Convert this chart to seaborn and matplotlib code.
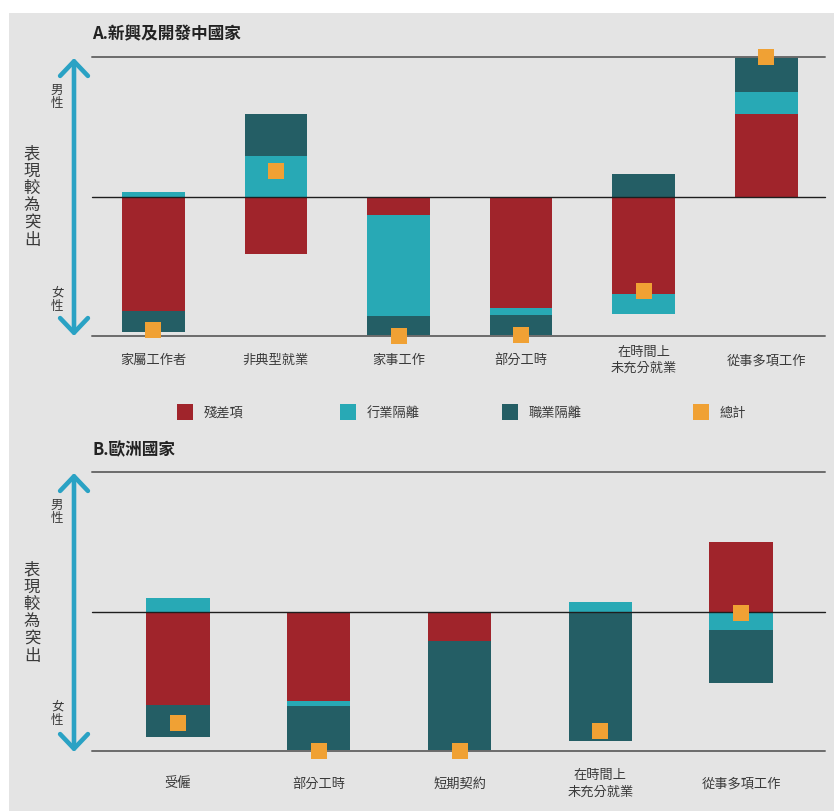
import numpy as np
import matplotlib
matplotlib.use("Agg")
import matplotlib.pyplot as plt
from matplotlib.patches import Rectangle, FancyArrowPatch
import seaborn as sns

# ---------------- data ----------------
cats_a = ["家屬工作者", "非典型就業", "家事工作", "部分工時", "在時間上\n未充分就業", "從事多項工作"]
resid_a = [-0.82, -0.41, -0.13, -0.80, -0.70, 0.59]
sector_a = [0.03, 0.29, -0.73, -0.05, -0.14, 0.16]
occup_a = [-0.15, 0.30, -0.14, -0.14, 0.16, 0.25]
total_a = [-0.96, 0.18, -1.00, -0.99, -0.68, 1.00]

cats_b = ["受僱", "部分工時", "短期契約", "在時間上\n未充分就業", "從事多項工作"]
resid_b = [-0.67, -0.645, -0.21, 0.0, 0.50]
sector_b = [0.10, -0.03, 0.0, 0.07, -0.13]
occup_b = [-0.23, -0.32, -0.79, -0.93, -0.38]
total_b = [-0.80, -1.00, -1.00, -0.86, -0.01]

legend_labels = ["殘差項", "行業隔離", "職業隔離", "總計"]
title_a = "A.新興及開發中國家"
title_b = "B.歐洲國家"

# ---------------- style ----------------
RED = "#a0242b"
CYAN = "#28a9b5"
DARK = "#245e65"
ORANGE = "#f0a134"
ARROW = "#2aa2c4"
BG = "#e4e4e4"
TXT = "#3a3a3a"

sns.set_style("white")
plt.rcParams["font.family"] = ["Noto Sans CJK TC", "DejaVu Sans"]

W, H = 834, 812
fig = plt.figure(figsize=(W / 100, H / 100), dpi=100)
fig.patch.set_facecolor("white")
fig.patches.append(Rectangle((9 / W, 0), 1 - 9 / W, (H - 14) / H,
                             transform=fig.transFigure, facecolor=BG,
                             edgecolor="none", zorder=-10))


def fx(px):
    return px / W


def fy(py):
    return 1 - py / H


def make_ax(top, bottom, left=92, right=825):
    ax = fig.add_axes([fx(left), fy(bottom), fx(right - left), (bottom - top) / H])
    ax.set_facecolor("none")
    return ax


def panel(ax, cats, comps, totals, width, xlim, label_pad):
    n = len(cats)
    pos_base = np.zeros(n)
    neg_base = np.zeros(n)
    for vals, col in zip(comps, [RED, CYAN, DARK]):
        v = np.asarray(vals, dtype=float)
        bottom = np.where(v >= 0, pos_base, neg_base)
        sns.barplot(x=cats, y=v, bottom=bottom, color=col, saturation=1,
                    width=width, linewidth=0, errorbar=None, ax=ax, zorder=2)
        pos_base += np.clip(v, 0, None)
        neg_base += np.clip(v, None, 0)
    sns.pointplot(x=cats, y=totals, color=ORANGE, markers="s",
                  linestyles="none", errorbar=None, ax=ax,
                  markersize=11.5, markeredgewidth=0, zorder=6, clip_on=False)
    for line in ax.lines:
        line.set_clip_on(False)
    ax.axhline(1, color="#6b6b6b", lw=1.4, zorder=3, clip_on=False)
    ax.axhline(-1, color="#6b6b6b", lw=1.4, zorder=3, clip_on=False)
    ax.axhline(0, color="#1e1e1e", lw=1.0, zorder=3, clip_on=False)
    ax.set_ylim(-1, 1)
    ax.set_xlim(*xlim)
    ax.set_yticks([])
    ax.set_xlabel("")
    ax.set_ylabel("")
    ax.set_xticks(range(n))
    ax.set_xticklabels(cats, va="center", ha="center", fontsize=9.5,
                       color=TXT, linespacing=1.3)
    ax.tick_params(axis="x", length=0, pad=label_pad)
    for s in ax.spines.values():
        s.set_visible(False)


# Panel A
axA = make_ax(58, 337)
panel(axA, cats_a, [resid_a, sector_a, occup_a], total_a, 0.51,
      (-0.5, -0.5 + (825 - 92) / 122.6), 17)

# Panel B
axB = make_ax(473, 752)
panel(axB, cats_b, [resid_b, sector_b, occup_b], total_b, 0.45,
      (-86 / 140.75, -86 / 140.75 + (825 - 92) / 140.75), 23)

# Titles
fig.text(fx(92), fy(34), title_a, fontsize=12, fontweight="bold",
         color="#222222", ha="left", va="center")
fig.text(fx(92), fy(450), title_b, fontsize=12, fontweight="bold",
         color="#222222", ha="left", va="center")

# Y annotations (arrows + vertical text)
for top, bot, y_m, y_mid, y_f in [(59, 337, 97, 197, 300),
                                  (474, 753, 512, 613, 714)]:
    fig.add_artist(FancyArrowPatch(
        (fx(74), fy(bot)), (fx(74), fy(top)), transform=fig.transFigure,
        arrowstyle="<->,head_length=1.05,head_width=1.0", mutation_scale=10,
        color=ARROW, lw=3.3, shrinkA=0, shrinkB=0))
    fig.text(fx(57), fy(y_m), "男\n性", fontsize=9, color=TXT,
             ha="center", va="center", linespacing=1.0)
    fig.text(fx(57), fy(y_f), "女\n性", fontsize=9, color=TXT,
             ha="center", va="center", linespacing=1.0)
    fig.text(fx(32), fy(y_mid), "\n".join("表現較為突出"), fontsize=11.8,
             color=TXT, ha="center", va="center", linespacing=1.02)

# Legend (manual)
leg_x = [177, 340, 502, 693]
for x0, lab, col in zip(leg_x, legend_labels, [RED, CYAN, DARK, ORANGE]):
    fig.patches.append(Rectangle((fx(x0), fy(421)), fx(16), 16 / H,
                                 transform=fig.transFigure, facecolor=col,
                                 edgecolor="none"))
    fig.text(fx(x0 + 27), fy(413), lab, fontsize=9.5, color=TXT,
             ha="left", va="center")

fig.savefig("out.png", dpi=100, facecolor=fig.get_facecolor())
